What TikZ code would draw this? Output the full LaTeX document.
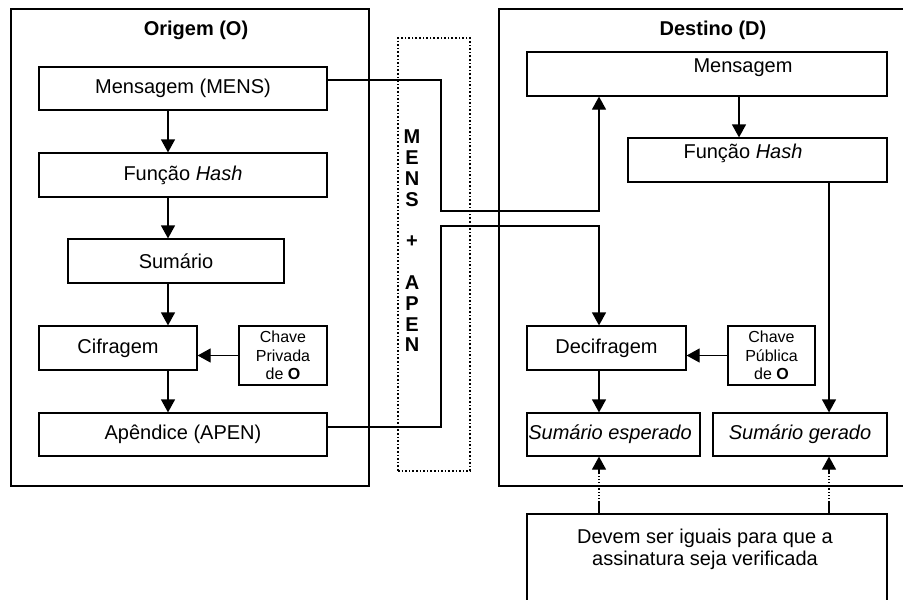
\documentclass[tikz,border=0pt]{standalone}
\usepackage{fontspec}
\setmainfont{Liberation Sans}
\usetikzlibrary{arrows.meta,calc}

\begin{document}
\begin{tikzpicture}[
  x=0.5pt, y=-0.5pt,
  every node/.style={font=\fontsize{10}{11}\selectfont},
  frame/.style={draw, line width=0.7pt, inner sep=0pt},
  box/.style={draw, line width=0.6pt, inner sep=0pt},
  keybox/.style={box, align=center, font=\fontsize{8}{9.25}\selectfont},
  arr/.style={-{Triangle[width=7pt,length=6.5pt]}, line width=0.6pt},
]
  \useasboundingbox (0,0) rectangle (903,599);

  % Origem
  \node[frame, minimum width=179pt, minimum height=238.5pt] (orig) at (190,247.5) {};
  \node (origtit) at (196,30) {\textbf{Origem (O)}};
  \node[box, minimum width=144pt, minimum height=21.5pt] (mensO) at (183,88.5) {Mensagem (MENS)};
  \node[box, minimum width=144pt, minimum height=22pt] (hashO) at (183,175) {Função \textit{Hash}};
  \node[box, minimum width=108pt, minimum height=22pt] (sumO) at (176,261) {Sumário};
  \node[box, minimum width=79pt, minimum height=22pt] (cifra) at (118,348) {Cifragem};
  \node[keybox, minimum width=44pt, minimum height=29.5pt] (chaveO) at (283,355.5) {Chave\\Privada\\de \textbf{O}};
  \node[box, minimum width=144pt, minimum height=21.5pt] (apen) at (183,434.5) {Apêndice (APEN)};
  \coordinate (axO) at (168,0);
  \draw[arr] (mensO.south -| axO) -- (hashO.north -| axO);
  \draw[arr] (hashO.south -| axO) -- (sumO.north -| axO);
  \draw[arr] (sumO.south -| axO) -- (cifra.north -| axO);
  \draw[arr] (cifra.south -| axO) -- (apen.north -| axO);
  \draw[arr] (chaveO.west) -- (chaveO.west -| cifra.east);

  % Canal
  \node[draw, densely dotted, line width=0.8pt, minimum width=36pt, minimum height=216.5pt] (canal) at (434,254.5) {};
  \node[align=center, font=\fontsize{10}{10.4}\selectfont\bfseries] (canaltxt) at (412,241)
    {M\\E\\N\\S\\[10.4pt]+\\[10.4pt]A\\P\\E\\N};

  % Destino
  \node[frame, minimum width=208pt, minimum height=238.5pt] (dest) at (707,247.5) {};
  \node (desttit) at (713,30) {\textbf{Destino (D)}};
  \node[box, minimum width=180pt, minimum height=22pt] (mensD) at (707,74) {};
  \node (mensDtxt) at (743,68) {Mensagem};
  \node[box, minimum width=129.5pt, minimum height=22pt] (hashD) at (757.5,160) {};
  \node (hashDtxt) at (743,153) {Função \textit{Hash}};
  \node[box, minimum width=79.5pt, minimum height=22pt] (decifra) at (606.5,348) {Decifragem};
  \node[keybox, minimum width=43.5pt, minimum height=29.5pt] (chaveD) at (771.5,355.5) {Chave\\Pública\\de \textbf{O}};
  \node[box, minimum width=86.5pt, minimum height=21.5pt] (sumEsp) at (613.5,434.5) {};
  \node (sumEsptxt) at (610,434) {\textit{Sumário esperado}};
  \node[box, minimum width=87pt, minimum height=21.5pt] (sumGer) at (800,434.5) {\textit{Sumário gerado}};
  \node[box, minimum width=180pt, minimum height=53pt] (igual) at (707,567) {};
  \node[align=center] (igualtxt) at (705,549) {Devem ser iguais para que a\\assinatura seja verificada};

  \coordinate (axD1) at (739,0);
  \coordinate (axD2) at (599,0);
  \coordinate (axD3) at (829,0);
  \draw[arr] (mensD.south -| axD1) -- (hashD.north -| axD1);
  \draw[arr] (hashD.south -| axD3) -- (sumGer.north -| axD3);
  \draw[arr] (decifra.south -| axD2) -- (sumEsp.north -| axD2);
  \draw[arr] (chaveD.west) -- (chaveD.west -| decifra.east);

  % MENS + APEN
  \coordinate (bendM) at (441,211);
  \coordinate (bendA) at (441,226);
  \draw[arr] ([yshift=4.25pt]mensO.east) -| (bendM) -| (mensD.south -| axD2);
  \draw[arr] ([yshift=3.75pt]apen.east) -| (bendA) -| (decifra.north -| axD2);

  % comparacao
  \foreach \ax/\tg in {axD2/sumEsp, axD3/sumGer}{
    \draw[line width=0.6pt] (igual.north -| \ax) -- ++(0,-11) coordinate (p1);
    \draw[line width=0.6pt, densely dotted] (p1) -- ++(0,-28) coordinate (p2);
    \draw[arr] (p2) -- (\tg.south -| \ax);
  }
\end{tikzpicture}
\end{document}
